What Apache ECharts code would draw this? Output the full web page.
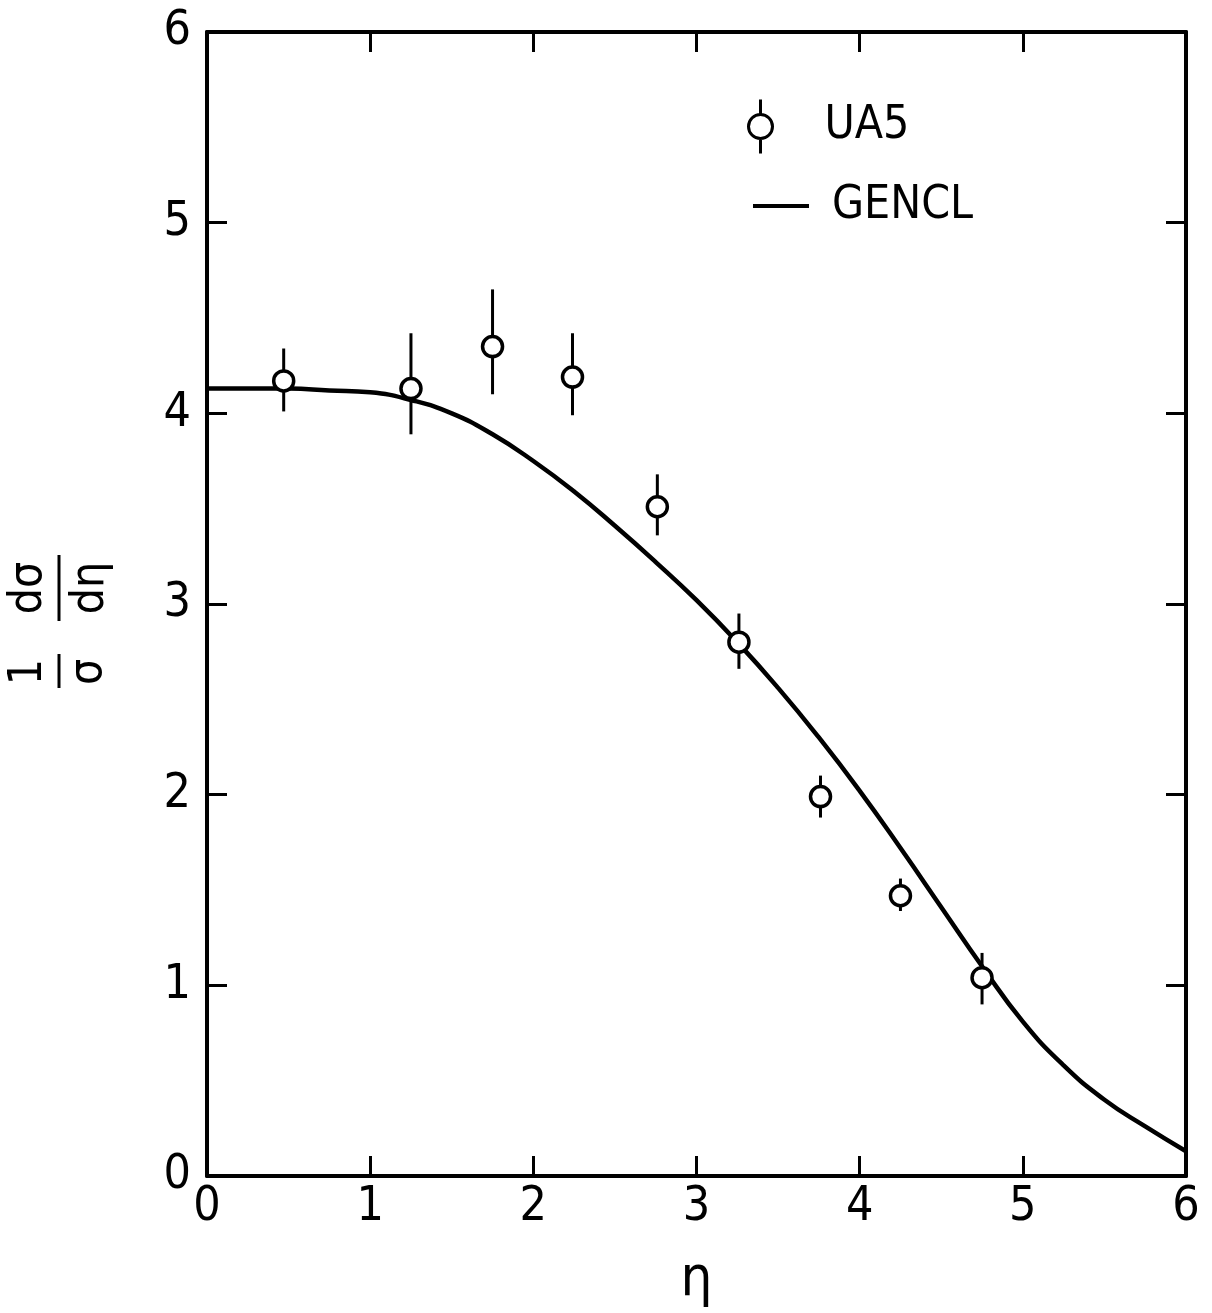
<!DOCTYPE html>
<html>
<head>
<meta charset="utf-8">
<script src="https://cdn.jsdelivr.net/npm/echarts@6/dist/echarts.min.js"></script>
<style>
html,body{margin:0;padding:0;background:#fff;}
#chart{width:1212px;height:1313px;}
</style>
</head>
<body>
<div id="chart"></div>
<script>
// UA5 data points
const etaPts = [0.47, 1.25, 1.75, 2.24, 2.76, 3.26, 3.76, 4.25, 4.75];
const ua5Vals = [4.17, 4.13, 4.35, 4.19, 3.51, 2.80, 1.99, 1.47, 1.04];
const errUp = [0.17, 0.29, 0.30, 0.23, 0.17, 0.15, 0.11, 0.09, 0.13];
const errDn = [0.16, 0.24, 0.25, 0.20, 0.15, 0.14, 0.11, 0.08, 0.14];

// GENCL curve
const curveEta = [0, 0.25, 0.5, 0.75, 1.0, 1.25, 1.5, 1.75, 2.0, 2.25, 2.5, 2.75, 3.0, 3.25, 3.5, 3.75, 4.0, 4.25, 4.5, 4.75, 5.0, 5.25, 5.5, 5.75, 6.0];
const curveVals = [4.13, 4.13, 4.13, 4.12, 4.11, 4.07, 4.00, 3.89, 3.75, 3.59, 3.41, 3.22, 3.02, 2.80, 2.56, 2.30, 2.02, 1.72, 1.41, 1.10, 0.81, 0.58, 0.40, 0.26, 0.13];

const xTicks = ['0', '1', '2', '3', '4', '5', '6'];
const yTicks = ['0', '1', '2', '3', '4', '5', '6'];

const FONT = "'DejaVu Sans Condensed', 'Liberation Sans Narrow', 'DejaVu Sans', sans-serif";

const ua5Data = etaPts.map((x, i) => [x, ua5Vals[i], ua5Vals[i] + errUp[i], ua5Vals[i] - errDn[i]]);
const curveData = curveEta.map((x, i) => [x, curveVals[i]]);

const chart = echarts.init(document.getElementById('chart'), null, {renderer: 'canvas'});

const axisCommon = {
  type: 'value', min: 0, max: 6, interval: 1,
  axisLine: {show: true, onZero: false, lineStyle: {color: '#000', width: 4}},
  axisTick: {show: true, inside: true, length: 20, lineStyle: {color: '#000', width: 3}},
  splitLine: {show: false}
};

chart.setOption({
  backgroundColor: '#fff',
  animation: false,
  grid: {left: 207, right: 26, top: 32, bottom: 135, containLabel: false},
  legend: [
    {
      left: 742, top: 93, orient: 'vertical',
      itemWidth: 30, itemHeight: 54,
      data: [{name: 'UA5', icon: 'path://M15,0 L15,15 M15,39 L15,54 M27,27 A12,12 0 1,1 3,27 A12,12 0 1,1 27,27 Z'}],
      itemStyle: {color: '#fff', borderColor: '#000', borderWidth: 3},
      textStyle: {fontFamily: FONT, fontSize: 46, color: '#000', padding: [0, 0, 0, 44]}
    },
    {
      left: 748, top: 178, orient: 'vertical',
      itemWidth: 56, itemHeight: 4,
      data: [{name: 'GENCL', icon: 'rect'}],
      itemStyle: {color: '#000', borderWidth: 0},
      textStyle: {fontFamily: FONT, fontSize: 46, color: '#000', padding: [0, 0, 0, 18]}
    }
  ],
  xAxis: [
    Object.assign({}, axisCommon, {
      position: 'bottom',
      name: 'η', nameLocation: 'middle', nameGap: 76,
      nameTextStyle: {fontFamily: FONT, fontSize: 56, color: '#000'},
      axisLabel: {show: true, margin: 8, fontFamily: FONT, fontSize: 48, color: '#000',
        formatter: v => xTicks[Math.round(v)]}
    }),
    Object.assign({}, axisCommon, {position: 'top', axisLabel: {show: false}})
  ],
  yAxis: [
    Object.assign({}, axisCommon, {
      position: 'left',
      axisLabel: {show: true, margin: 16, fontFamily: FONT, fontSize: 48, color: '#000',
        formatter: v => yTicks[Math.round(v)]}
    }),
    Object.assign({}, axisCommon, {position: 'right', axisLabel: {show: false}})
  ],
  graphic: [{
    type: 'group', x: 59, y: 625, rotation: Math.PI / 2,
    children: [
      {type: 'text', x: -47, y: -30, style: {text: '1', font: '46px ' + FONT, fill: '#000', align: 'center', verticalAlign: 'middle'}},
      {type: 'line', shape: {x1: -63, y1: 0, x2: -29, y2: 0}, style: {stroke: '#000', lineWidth: 3}},
      {type: 'text', x: -47, y: 30, style: {text: 'σ', font: '46px ' + FONT, fill: '#000', align: 'center', verticalAlign: 'middle'}},
      {type: 'text', x: 37, y: -30, style: {text: 'dσ', font: '46px ' + FONT, fill: '#000', align: 'center', verticalAlign: 'middle'}},
      {type: 'line', shape: {x1: 4, y1: 0, x2: 70, y2: 0}, style: {stroke: '#000', lineWidth: 3}},
      {type: 'text', x: 37, y: 32, style: {text: 'dη', font: '46px ' + FONT, fill: '#000', align: 'center', verticalAlign: 'middle'}}
    ]
  }],
  series: [
    {
      name: 'GENCL', type: 'line', data: curveData, smooth: true,
      showSymbol: false, symbol: 'none', z: 2,
      lineStyle: {color: '#000', width: 4.5}, itemStyle: {color: '#000'}
    },
    {
      name: 'UA5', type: 'custom', z: 5, data: ua5Data,
      itemStyle: {color: '#000'},
      encode: {x: 0, y: [1, 2, 3]},
      renderItem: function (params, api) {
        const c = api.coord([api.value(0), api.value(1)]);
        const hi = api.coord([api.value(0), api.value(2)]);
        const lo = api.coord([api.value(0), api.value(3)]);
        return {
          type: 'group',
          children: [
            {type: 'line', shape: {x1: c[0], y1: hi[1], x2: c[0], y2: lo[1]}, style: {stroke: '#000', lineWidth: 3}},
            {type: 'circle', shape: {cx: c[0], cy: c[1], r: 10}, style: {fill: '#fff', stroke: '#000', lineWidth: 3.5}}
          ]
        };
      }
    }
  ]
});
</script>
</body>
</html>
